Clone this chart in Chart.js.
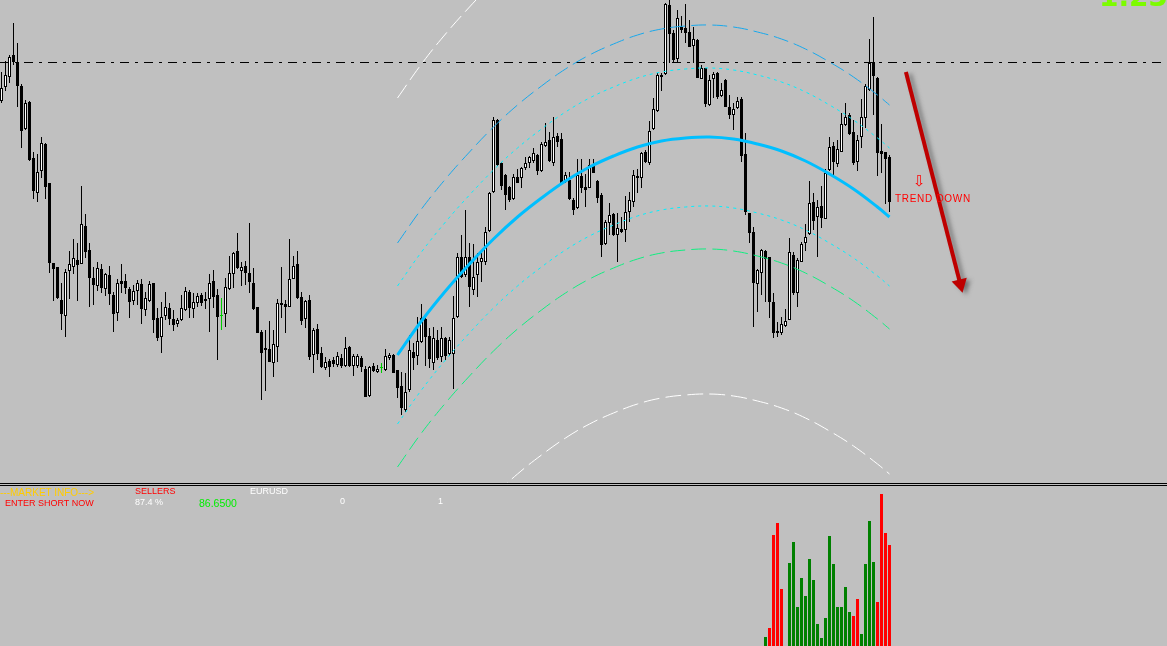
<!DOCTYPE html>
<html><head><meta charset="utf-8">
<script src="https://cdn.jsdelivr.net/npm/chart.js@4.4.1/dist/chart.umd.min.js"></script>
<style>
html,body{margin:0;padding:0;background:#c0c0c0;overflow:hidden;}
#wrap{position:relative;width:1167px;height:646px;background:#c0c0c0;overflow:hidden;}
#main{position:absolute;left:0;top:0;}
#sep{position:absolute;left:0;top:483px;width:1167px;height:1px;border-top:1px solid #000;border-bottom:1px solid #000;background:#c0c0c0;}
#sub{position:absolute;left:0;top:486px;}
.t{position:absolute;white-space:nowrap;font-family:"Liberation Sans",Arial,sans-serif;line-height:1;}
</style></head>
<body>
<div id="wrap">
<canvas id="main" width="1167" height="483"></canvas>
<div id="sep"></div>
<canvas id="sub" width="1167" height="160"></canvas>

<div class="t" style="left:1099px;top:-17.5px;font:bold 28px 'DejaVu Sans';line-height:28px;color:#7CFC00;">1.2396</div>
<div class="t" style="left:913px;top:174px;font-family:'DejaVu Sans';font-size:15px;color:#FF0000;">⇩</div>
<div class="t" style="left:895px;top:193.5px;font-size:10px;letter-spacing:0.7px;color:#FF0000;">TREND DOWN</div>

<div class="t" style="left:0px;top:487.5px;font-size:10px;color:#FFCC00;">---MARKET INFO---&gt;</div>
<div class="t" style="left:5px;top:499px;font-size:9px;color:#FF0000;">ENTER SHORT NOW</div>
<div class="t" style="left:135px;top:487.4px;font-size:9px;color:#FF0000;">SELLERS</div>
<div class="t" style="left:135px;top:498.4px;font-size:9px;color:#FFFFFF;">87.4 %</div>
<div class="t" style="left:199px;top:497.8px;font-size:10.5px;color:#00EE00;">86.6500</div>
<div class="t" style="left:250px;top:487.4px;font-size:9px;color:#FFFFFF;">EURUSD</div>
<div class="t" style="left:340px;top:497.4px;font-size:9px;color:#FFFFFF;">0</div>
<div class="t" style="left:438px;top:497.4px;font-size:9px;color:#FFFFFF;">1</div>
</div>

<script>
// ---- candle data (price in points, 1 point = 0.0001) ----
const open = [
12399,12413,12423,12445,12438,12414,12371,12398,12342,12307,
12329,12356,12317,12237,12233,12200,12184,12229,12233,12240,
12236,12274,12250,12222,12214,12231,12211,12225,12205,12187,
12219,12219,12211,12199,12209,12216,12190,12199,12217,12182,
12163,12184,12192,12181,12176,12180,12190,12208,12191,12197,
12205,12201,12201,12219,12205,12185,12186,12211,12226,12249,
12229,12234,12227,12217,12193,12168,12152,12151,12137,12153,
12197,12196,12193,12221,12236,12203,12181,12200,12145,12171,
12147,12132,12139,12140,12135,12142,12134,12153,12134,12134,
12142,12131,12104,12134,12128,12133,12130,12142,12145,12130,
12114,12090,12110,12148,12144,12158,12181,12164,12137,12160,
12143,12162,12146,12146,12183,12243,12225,12243,12210,12225,
12238,12238,12269,12308,12380,12337,12325,12313,12301,12323,
12322,12332,12337,12339,12345,12329,12354,12360,12337,12364,
12361,12318,12320,12300,12292,12324,12313,12312,12335,12319,
12305,12256,12277,12286,12265,12271,12270,12288,12298,12324,
12322,12348,12337,12371,12389,12423,12426,12495,12467,12441,
12473,12472,12468,12454,12460,12421,12432,12395,12421,12427,
12404,12420,12393,12385,12392,12401,12346,12287,12268,12216,
12227,12249,12243,12198,12169,12167,12174,12180,12245,12207,
12238,12257,12266,12298,12283,12294,12281,12330,12354,12336,
12348,12375,12385,12368,12338,12363,12382,12410,12438,12422,
12349,12348,12343];
const high = [
12428,12439,12445,12477,12457,12416,12400,12399,12348,12346,
12363,12357,12317,12237,12233,12217,12231,12249,12261,12257,
12314,12286,12257,12233,12238,12236,12227,12234,12208,12221,
12236,12226,12213,12215,12220,12221,12208,12219,12217,12192,
12198,12208,12197,12190,12182,12205,12213,12210,12207,12207,
12207,12208,12226,12230,12211,12202,12222,12244,12248,12267,
12238,12239,12277,12232,12193,12170,12170,12179,12170,12201,
12233,12200,12261,12244,12249,12208,12200,12205,12172,12176,
12153,12143,12141,12143,12148,12146,12163,12154,12146,12146,
12144,12134,12134,12137,12135,12137,12151,12147,12146,12130,
12128,12127,12165,12157,12183,12196,12182,12172,12173,12170,
12173,12163,12163,12204,12247,12265,12290,12257,12256,12247,
12250,12273,12308,12383,12381,12338,12326,12314,12326,12331,
12333,12343,12344,12352,12346,12358,12377,12368,12383,12367,
12367,12328,12328,12302,12341,12341,12326,12341,12341,12320,
12307,12280,12297,12287,12287,12283,12304,12308,12330,12331,
12348,12350,12379,12402,12427,12427,12497,12500,12470,12490,
12484,12496,12480,12473,12461,12435,12432,12425,12428,12428,
12417,12421,12405,12397,12403,12403,12367,12287,12273,12231,
12251,12250,12243,12207,12178,12183,12191,12262,12248,12242,
12258,12276,12319,12307,12300,12314,12331,12363,12358,12360,
12387,12397,12387,12380,12365,12401,12416,12461,12483,12423,
12376,12348,12345];
const low = [
12397,12409,12417,12435,12393,12352,12370,12339,12301,12298,
12322,12301,12227,12199,12201,12170,12163,12201,12226,12199,
12236,12242,12193,12195,12209,12207,12204,12195,12168,12179,
12207,12206,12182,12195,12195,12176,12184,12198,12167,12159,
12147,12180,12175,12169,12173,12179,12189,12182,12182,12193,
12194,12191,12168,12192,12140,12170,12173,12210,12212,12231,
12214,12215,12207,12190,12167,12100,12109,12138,12123,12138,
12182,12167,12193,12221,12201,12175,12172,12140,12127,12140,
12132,12130,12123,12133,12133,12132,12133,12133,12124,12132,
12128,12103,12103,12128,12127,12127,12129,12140,12127,12102,
12085,12088,12108,12130,12135,12157,12134,12132,12130,12140,
12138,12140,12144,12111,12182,12222,12223,12193,12205,12203,
12218,12235,12268,12307,12334,12310,12290,12298,12300,12317,
12312,12330,12332,12337,12325,12328,12353,12338,12334,12353,
12316,12317,12300,12285,12291,12307,12293,12312,12327,12297,
12243,12255,12265,12264,12238,12267,12258,12278,12293,12307,
12312,12337,12335,12370,12388,12409,12425,12437,12437,12438,
12467,12457,12453,12437,12422,12421,12393,12394,12402,12401,
12403,12393,12381,12370,12391,12338,12285,12257,12173,12188,
12205,12198,12182,12162,12163,12165,12173,12180,12205,12193,
12238,12249,12265,12270,12243,12272,12281,12329,12325,12333,
12348,12374,12365,12335,12329,12352,12372,12409,12385,12324,
12327,12296,12288];
const close = [
12412,12425,12443,12438,12414,12369,12397,12340,12309,12328,
12357,12313,12237,12231,12202,12186,12228,12236,12242,12235,
12276,12248,12222,12215,12232,12212,12226,12206,12186,12217,
12216,12212,12198,12209,12217,12191,12202,12216,12180,12162,
12183,12193,12181,12175,12180,12192,12209,12192,12198,12204,
12197,12199,12217,12203,12183,12184,12213,12227,12247,12232,
12233,12227,12218,12191,12167,12147,12150,12138,12156,12197,
12195,12193,12221,12234,12202,12179,12199,12143,12170,12146,
12133,12138,12133,12136,12144,12134,12152,12134,12144,12144,
12133,12103,12133,12129,12131,12132,12144,12145,12127,12112,
12092,12108,12150,12142,12159,12182,12163,12141,12162,12142,
12162,12144,12160,12182,12243,12223,12243,12213,12223,12238,
12242,12268,12307,12380,12335,12314,12305,12300,12323,12317,
12332,12337,12343,12347,12329,12356,12358,12339,12363,12358,
12317,12325,12301,12290,12325,12312,12310,12335,12327,12302,
12255,12278,12285,12265,12272,12268,12288,12300,12325,12322,
12347,12338,12369,12391,12425,12425,12496,12466,12440,12482,
12470,12467,12453,12461,12422,12432,12396,12420,12426,12403,
12410,12393,12385,12391,12399,12344,12288,12267,12217,12230,
12250,12241,12198,12167,12167,12176,12179,12248,12207,12240,
12256,12263,12297,12279,12293,12282,12327,12353,12338,12351,
12376,12383,12366,12337,12360,12383,12414,12437,12424,12347,
12346,12341,12298];
// bars flagged by the signal indicator (drawn green)
const signalBars = [55, 95];

// ---- polynomial regression channel (bar index, price points) ----
const chanIdx = [99,105,111,117,123,129,135,141,147,153,159,165,171,177,183,189,195,201,207,213,219,222];
const regMid = [12145,12179,12209,12236,12261,12283,12302,12319,12333,12344,12353,12359,12362,12363,12361,12356,12349,12339,12326,12311,12293,12283];
const regUp1 = [12214,12248,12278,12305,12330,12352,12371,12388,12402,12413,12422,12428,12431,12432,12430,12425,12418,12408,12395,12380,12362,12352];
const regDn1 = [12076,12110,12140,12167,12192,12214,12233,12250,12264,12275,12284,12290,12293,12294,12292,12287,12280,12270,12257,12242,12224,12214];
const regUp2 = [12257,12291,12321,12348,12373,12395,12414,12431,12445,12456,12465,12471,12474,12475,12473,12468,12461,12451,12438,12423,12405,12395];
const regDn2 = [12033,12067,12097,12124,12149,12171,12190,12207,12221,12232,12241,12247,12250,12251,12249,12244,12237,12227,12214,12199,12181,12171];
const regUp3 = [12402,12436,12466,12493,12518,12540,12559,12576,12590,12601,12610,12616,12619,12620,12618,12613,12606,12596,12583,12568,12550,12540];
const regDn3 = [11888,11922,11952,11979,12004,12026,12045,12062,12076,12087,12096,12102,12105,12106,12104,12099,12092,12082,12069,12054,12036,12026];

// horizontal level and trend arrow (bar index, price points)
const levelLine = 12437.5;
const trendArrow = [[226.1, 12428], [239.7, 12216]];

// ---- sub-window histogram (bars 191..222) ----
const histIdx = [191,192,193,194,195,196,197,198,199,200,201,202,203,204,205,206,207,208,209,210,211,212,213,214,215,216,217,218,219,220,221,222];
const histValues = [9,18,111,123,57,0,83,104,39,68,50,87,66,22,8,28,110,82,39,39,59,34,30,47,12,82,125,84,44,152,113,101];
const histSide = ['B','S','S','S','S','B','B','B','B','B','B','B','B','B','B','B','B','B','B','B','B','B','S','S','B','B','B','B','S','S','S','S'];

// ---- view ----
const xMin = -0.375, xMax = 291.375;
const priceMin = 12017, priceMax = 12500;

const pts = (xs, ys) => xs.map((x, k) => ({x, y: ys[k]}));
const isSig = i => signalBars.includes(i);

const wickData = open.map((o, i) => ({x: i, y: [low[i], high[i]]}));
const bodyData = open.map((o, i) => ({x: i, y: [o, close[i]]}));

function chanLine(ys, color, dash, width, order) {
  return {type: 'line', data: pts(chanIdx, ys), borderColor: color, borderWidth: width,
    borderDash: dash, pointRadius: 0, tension: 0.4, capBezierPoints: false, fill: false, order};
}

const shadowPlugin = {
  id: 'arrowShadow',
  beforeDatasetDraw(chart, args) {
    if (chart.data.datasets[args.index].id === 'arrow') {
      const c = chart.ctx; c.save();
      c.shadowColor = 'rgba(70,70,70,0.55)'; c.shadowBlur = 4; c.shadowOffsetX = 4; c.shadowOffsetY = 2;
    }
  },
  afterDatasetDraw(chart, args) {
    if (chart.data.datasets[args.index].id === 'arrow') chart.ctx.restore();
  }
};

const common = {
  responsive: false, animation: false, devicePixelRatio: 1, events: [],
  layout: {padding: 0, autoPadding: false},
  plugins: {legend: {display: false}, tooltip: {enabled: false}}
};

new Chart(document.getElementById('main'), {
  type: 'bar',
  data: {datasets: [
    {type: 'line', data: [{x: xMin, y: levelLine}, {x: xMax, y: levelLine}], borderColor: '#000000',
     borderWidth: 1, borderDash: [9, 6, 3, 6], pointRadius: 0, order: 20},
    {data: wickData, barThickness: 1, grouped: false, inflateAmount: 0, borderWidth: 0,
     backgroundColor: c => isSig(c.dataIndex) ? '#00CC00' : '#000000', order: 15},
    {data: bodyData, barThickness: 3, grouped: false, inflateAmount: 0, borderWidth: 1, borderSkipped: false,
     backgroundColor: c => isSig(c.dataIndex) ? '#00CC00' : (close[c.dataIndex] > open[c.dataIndex] ? '#FFFFFF' : '#000000'),
     borderColor: c => isSig(c.dataIndex) ? '#00CC00' : '#000000', order: 14},
    chanLine(regUp3, '#FFFFFF', [16, 6], 1, 8),
    chanLine(regDn3, '#FFFFFF', [16, 6], 1, 8),
    chanLine(regUp2, '#18A8EC', [15, 6], 1, 7),
    chanLine(regDn2, '#10EE80', [15, 6], 1, 7),
    chanLine(regUp1, '#00F0FF', [3, 4], 1, 6),
    chanLine(regDn1, '#00F0FF', [3, 4], 1, 6),
    chanLine(regMid, '#00BFFF', [], 3, 5),
    {type: 'line', id: 'arrow', data: trendArrow.map(p => ({x: p[0], y: p[1]})), borderColor: '#BE0000',
     borderWidth: 4, pointRadius: [0, 9], pointStyle: 'triangle', pointRotation: 165.7,
     pointBackgroundColor: '#BE0000', pointBorderWidth: 0, order: 1}
  ]},
  options: {...common,
    scales: {
      x: {type: 'linear', min: xMin, max: xMax, offset: false, display: false},
      y: {type: 'linear', min: priceMin, max: priceMax, display: false}
    }},
  plugins: [shadowPlugin]
});

new Chart(document.getElementById('sub'), {
  type: 'bar',
  data: {datasets: [
    {data: pts(histIdx, histValues), barThickness: 3, grouped: false, inflateAmount: 0, borderWidth: 0,
     backgroundColor: c => histSide[c.dataIndex] === 'S' ? '#FF0000' : '#008000'}
  ]},
  options: {...common,
    scales: {
      x: {type: 'linear', min: xMin, max: xMax, offset: false, display: false},
      y: {type: 'linear', min: 0, max: 160, display: false}
    }}
});
</script>
</body></html>
